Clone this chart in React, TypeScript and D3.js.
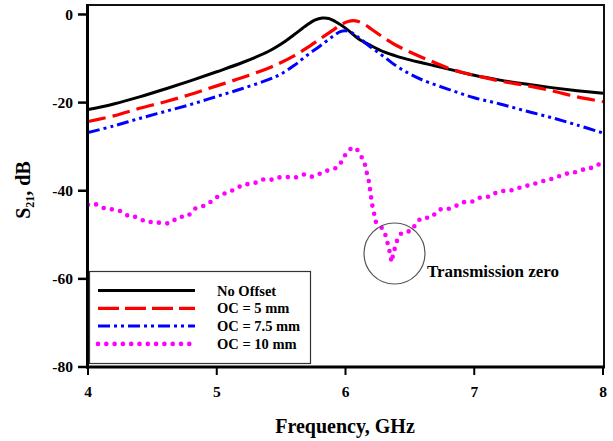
import React from 'react';
import * as d3 from 'd3';

// frequency (GHz) / S21 (dB)
const noOffsetF = [4.0, 4.2, 4.4, 4.6, 4.8, 5.0, 5.2, 5.4, 5.5, 5.6, 5.7, 5.76, 5.82, 5.87, 5.92, 6.0, 6.1, 6.2, 6.3, 6.4, 6.5, 6.6, 6.7, 6.8, 6.9, 7.0, 7.2, 7.4, 7.6, 7.8, 8.0];
const noOffsetDb = [-21.6, -20.3, -18.7, -16.9, -15.0, -13.0, -10.9, -8.4, -6.7, -4.6, -2.4, -1.3, -0.8, -0.9, -1.6, -3.1, -5.5, -7.1, -8.5, -9.5, -10.3, -11.0, -11.7, -12.4, -13.1, -13.8, -14.9, -15.8, -16.6, -17.3, -17.9];

const oc5F = [4.0, 4.2, 4.4, 4.6, 4.8, 5.0, 5.2, 5.4, 5.5, 5.6, 5.7, 5.8, 5.9, 5.96, 6.02, 6.06, 6.1, 6.16, 6.2, 6.3, 6.4, 6.5, 6.6, 6.7, 6.8, 6.9, 7.0, 7.2, 7.4, 7.6, 7.8, 8.0];
const oc5Db = [-24.3, -23.0, -21.3, -19.8, -18.1, -16.2, -14.3, -12.2, -10.9, -9.4, -7.6, -5.6, -3.6, -2.4, -1.6, -1.4, -1.6, -2.5, -3.3, -5.3, -7.1, -8.5, -9.8, -11.0, -12.2, -13.1, -13.8, -15.1, -16.1, -17.3, -18.7, -19.8];

const oc75F = [4.0, 4.2, 4.4, 4.6, 4.8, 5.0, 5.2, 5.4, 5.5, 5.6, 5.7, 5.8, 5.9, 5.96, 6.0, 6.04, 6.1, 6.2, 6.3, 6.4, 6.5, 6.6, 6.8, 7.0, 7.2, 7.4, 7.6, 7.8, 8.0];
const oc75Db = [-26.8, -25.3, -23.6, -22.0, -20.4, -18.6, -16.8, -14.8, -13.5, -11.6, -9.3, -7.2, -5.0, -3.9, -3.7, -4.0, -5.2, -7.5, -9.6, -11.8, -13.5, -14.9, -17.0, -18.9, -20.3, -21.9, -23.4, -25.1, -26.9];

const oc10F = [4.0, 4.05, 4.12, 4.18, 4.25, 4.32, 4.38, 4.45, 4.51, 4.57, 4.64, 4.7, 4.77, 4.83, 4.9, 4.96, 5.03, 5.09, 5.16, 5.22, 5.29, 5.35, 5.42, 5.48, 5.55, 5.61, 5.68, 5.74, 5.81, 5.87, 5.94, 5.98, 6.02, 6.07, 6.12, 6.15, 6.165, 6.18, 6.19, 6.2, 6.21, 6.225, 6.24, 6.29, 6.315, 6.33, 6.345, 6.36, 6.37, 6.39, 6.41, 6.45, 6.51, 6.55, 6.6, 6.66, 6.73, 6.79, 6.86, 6.92, 6.99, 7.05, 7.12, 7.18, 7.25, 7.31, 7.38, 7.44, 7.5, 7.57, 7.63, 7.7, 7.76, 7.83, 7.89, 7.96, 8.0];
const oc10Db = [-43.2, -43.0, -43.9, -44.2, -44.6, -45.8, -46.0, -47.0, -47.1, -47.3, -47.3, -46.0, -45.8, -44.1, -43.4, -42.4, -40.9, -40.4, -39.3, -38.6, -38.3, -37.5, -37.5, -37.0, -36.9, -37.0, -36.3, -36.8, -36.0, -35.3, -34.6, -32.8, -31.0, -30.2, -32.1, -34.0, -35.9, -37.7, -39.6, -41.7, -43.6, -45.5, -47.3, -48.7, -50.5, -52.3, -54.1, -56.2, -54.3, -52.5, -50.6, -49.3, -49.1, -47.3, -46.1, -46.1, -44.3, -44.2, -43.4, -42.6, -42.4, -41.5, -41.3, -40.3, -40.0, -39.8, -39.0, -38.7, -38.1, -37.5, -37.1, -36.2, -36.0, -35.3, -35.0, -34.1, -33.7];

const seriesNames = ['No Offset', 'OC = 5 mm', 'OC = 7.5 mm', 'OC = 10 mm'];
const xTicks = [4, 5, 6, 7, 8];
const yTicks = [0, -20, -40, -60, -80];

const font = '"Liberation Serif", "Times New Roman", serif';

const styles = [
  { color: '#000000', width: 3, dash: undefined, cap: 'butt' },
  { color: '#ff0000', width: 3.2, dash: '18 7', cap: 'butt' },
  { color: '#0000ff', width: 3, dash: '12 4 3 4 3 4', cap: 'butt' },
  { color: '#ff00ff', width: 4.6, dash: '0 8.3', cap: 'round' },
];

export default function App() {
  const x = d3.scaleLinear().domain([4, 8]).range([88, 603]);
  const y = d3.scaleLinear().domain([-80, 2.15]).range([367, 5]);

  const series = [
    [noOffsetF, noOffsetDb],
    [oc5F, oc5Db],
    [oc75F, oc75Db],
    [oc10F, oc10Db],
  ].map(([f, db]) => f.map((v, i) => [v, db[i]] as [number, number]));

  const line = d3
    .line<[number, number]>()
    .x((d) => x(d[0]))
    .y((d) => y(d[1]))
    .curve(d3.curveCatmullRom.alpha(0.5));

  // legend position
  const lx = 89.5, ly = 271.5, lw = 221, lh = 92;

  return (
    <svg width={613} height={441} style={{ position: 'absolute', left: 0, top: 0, background: '#fff' }}>
      <defs>
        <clipPath id="plot">
          <rect x={88} y={5} width={516} height={362} />
        </clipPath>
      </defs>

      <g clipPath="url(#plot)">
        {series.map((pts, i) => (
          <path
            key={i}
            d={line(pts) || ''}
            fill="none"
            stroke={styles[i].color}
            strokeWidth={styles[i].width}
            strokeDasharray={styles[i].dash}
            strokeLinecap={styles[i].cap as any}
          />
        ))}
      </g>

      {/* frame */}
      <line x1={88} x2={604} y1={5} y2={5} stroke="#111" strokeWidth={2} />
      <line x1={604} x2={604} y1={4} y2={368} stroke="#111" strokeWidth={2} />
      <line x1={87.5} x2={87.5} y1={4} y2={368.5} stroke="#000" strokeWidth={3} />
      <line x1={86} x2={605} y1={367} y2={367} stroke="#000" strokeWidth={3} />

      {/* y axis */}
      {yTicks.map((t) => (
        <g key={t}>
          <line x1={78} x2={87} y1={y(t)} y2={y(t)} stroke="#000" strokeWidth={2.5} />
          <text x={73} y={y(t)} dy="0.35em" textAnchor="end" fontFamily={font} fontWeight="bold" fontSize={15.5}>
            {t}
          </text>
        </g>
      ))}

      {/* x axis */}
      {xTicks.map((t) => (
        <g key={t}>
          <line x1={x(t)} x2={x(t)} y1={367} y2={375} stroke="#000" strokeWidth={2} />
          <text x={x(t)} y={397} textAnchor="middle" fontFamily={font} fontWeight="bold" fontSize={15.5}>
            {t}
          </text>
        </g>
      ))}

      <text x={345} y={433} textAnchor="middle" fontFamily={font} fontWeight="bold" fontSize={20}>
        Frequency, GHz
      </text>
      <text transform="translate(30,190) rotate(-90)" textAnchor="middle" fontFamily={font} fontWeight="bold" fontSize={20}>
        S<tspan fontSize={12} dy={4}>21</tspan>
        <tspan dy={-4}>, dB</tspan>
      </text>

      {/* transmission zero annotation */}
      <ellipse cx={394.5} cy={253.5} rx={30.5} ry={30.5} fill="none" stroke="#555" strokeWidth={1.2} />
      <text x={427} y={276.5} fontFamily={font} fontWeight="bold" fontSize={17}>
        Transmission zero
      </text>

      {/* legend */}
      <rect x={lx} y={ly} width={lw} height={lh} fill="#fff" stroke="#333" strokeWidth={1.2} />
      {seriesNames.map((name, i) => {
        const yy = 290.5 + i * 17.8;
        return (
          <g key={name}>
            <line
              x1={98}
              x2={195}
              y1={yy}
              y2={yy}
              stroke={styles[i].color}
              strokeWidth={styles[i].width}
              strokeDasharray={i === 1 ? '21 6' : styles[i].dash}
              strokeLinecap={styles[i].cap as any}
            />
            <text x={217} y={yy} dy="0.35em" fontFamily={font} fontWeight="bold" fontSize={14.5}>
              {name}
            </text>
          </g>
        );
      })}
    </svg>
  );
}
